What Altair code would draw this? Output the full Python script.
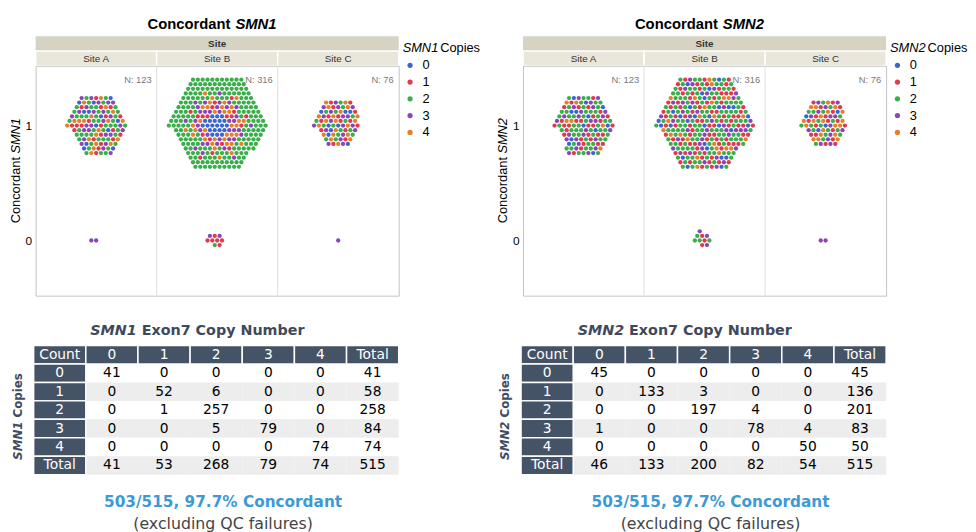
import altair as alt
import pandas as pd

# ---------------- data ----------------
SITES = ["Site A", "Site B", "Site C"]
SITE_N = [123, 316, 76]
COPIES = ["0", "1", "2", "3", "4"]

# counts of samples per copy number (0..4), concordant (=1) and discordant (=0), per site
SMN1_CONCORDANT = {"Site A": [12, 20, 45, 25, 19], "Site B": [21, 18, 197, 36, 35], "Site C": [8, 14, 15, 18, 20]}
SMN1_DISCORDANT = {"Site A": [0, 0, 0, 2, 0], "Site B": [0, 6, 1, 2, 0], "Site C": [0, 0, 0, 1, 0]}
SMN2_CONCORDANT = {"Site A": [12, 30, 50, 25, 6], "Site B": [29, 85, 129, 39, 24], "Site C": [4, 18, 18, 14, 20]}
SMN2_DISCORDANT = {"Site A": [0, 0, 0, 0, 0], "Site B": [0, 3, 4, 3, 0], "Site C": [0, 0, 0, 2, 0]}

TABLE_COLS = ["Count", "0", "1", "2", "3", "4", "Total"]
TABLE_ROWS = ["0", "1", "2", "3", "4", "Total"]
SMN1_TABLE = [[41, 0, 0, 0, 0, 41], [0, 52, 6, 0, 0, 58], [0, 1, 257, 0, 0, 258],
              [0, 0, 5, 79, 0, 84], [0, 0, 0, 0, 74, 74], [41, 53, 268, 79, 74, 515]]
SMN2_TABLE = [[45, 0, 0, 0, 0, 45], [0, 133, 3, 0, 0, 136], [0, 0, 197, 4, 0, 201],
              [1, 0, 0, 78, 4, 83], [0, 0, 0, 0, 50, 50], [46, 133, 200, 82, 54, 515]]

CONCORDANCE_TEXT = "503/515, 97.7% Concordant"
FOOTNOTE_TEXT = "(excluding QC failures)"

# ---------------- styling / layout ----------------
COLORS = ["#3b66d0", "#e03a4c", "#3aae4a", "#8c45b5", "#e47f2c"]
W = 368
HDR_H = 30
PLOT_H = 233
TAB_H = 237
Y_DOM = [-0.48, 1.52]
ROW_PX = 18.71
TAB_TOP = 50.5
SX, SY, DOT_SIZE = 4.9, 4.65, 19
PXU_X = W / 3.0
PXU_Y = PLOT_H / (Y_DOM[1] - Y_DOM[0])
FA = "Liberation Sans"
FT = "DejaVu Sans"
SLATE = "#455366"
PHI = 0.6180339887
# ordering bias (layout only): centre the blue group in Site B for SMN1, green outside
ORDER_BIAS = {"SMN1": {"Site B": [-1.0, 0.0, 0.7, 0.0, 0.0]}, "SMN2": {}}


def points(conc, disc, gene):
    recs = []
    for si, site in enumerate(SITES):
        for cval, table in ((1, conc), (0, disc)):
            idx = 0
            for ci, n in enumerate(table[site]):
                for _ in range(n):
                    key = (idx * PHI) % 1.0
                    if cval == 1 and site in ORDER_BIAS[gene]:
                        key += ORDER_BIAS[gene][site][ci]
                    recs.append(dict(site=site, site_idx=si, conc=cval, copies=COPIES[ci], key=key))
                    idx += 1
    return pd.DataFrame(recs)


def txt(t, **kw):
    return alt.Chart(pd.DataFrame({"t": [t]})).mark_text(**kw)


def header_chart(gene):
    sites = pd.DataFrame({"site": SITES, "site_idx": list(range(len(SITES)))})
    xs = alt.Scale(domain=[0, len(SITES)], nice=False, zero=False)
    outer = alt.Chart(pd.DataFrame({"t": ["Site"]})).mark_rect(fill="#d6d3c3").encode(
        x=alt.value(0), x2=alt.value(W), y=alt.value(0), y2=alt.value(15))
    outer_t = txt("Site", fontWeight="bold", fontSize=10, font=FA, color="#333").encode(
        x=alt.value(W / 2), y=alt.value(8), text="t:N")
    cells = alt.Chart(sites).transform_calculate(x2="datum.site_idx + 1").mark_rect(
        fill="#e9e7dc", stroke="white", strokeWidth=1.5).encode(
        x=alt.X("site_idx:Q", scale=xs, axis=None), x2="x2:Q", y=alt.value(15), y2=alt.value(30))
    cell_t = alt.Chart(sites).transform_calculate(xc="datum.site_idx + 0.5").mark_text(
        fontSize=10, font=FA, color="#333").encode(
        x=alt.X("xc:Q", scale=xs, axis=None), y=alt.value(23), text="site:N")
    split = 199.5
    t1 = txt("Concordant", align="right", fontWeight="bold", fontSize=15, font=FA, color="black").encode(
        x=alt.value(split - 2), y=alt.value(-12.5), text="t:N")
    t2 = txt(gene, align="left", fontWeight="bold", fontStyle="italic", fontSize=15, font=FA, color="black").encode(
        x=alt.value(split + 3), y=alt.value(-12.5), text="t:N")
    return alt.layer(outer, outer_t, cells, cell_t, t1, t2).properties(width=W, height=HDR_H)


def plot_chart(df, gene):
    xs = alt.Scale(domain=[0, len(SITES)], nice=False, zero=False)
    ys = alt.Scale(domain=Y_DOM, nice=False, zero=False)
    dots = (
        alt.Chart(df)
        .transform_window(rn="row_number()", groupby=["site", "conc"], sort=[alt.SortField("key")])
        .transform_calculate(i="datum.rn - 1")
        .transform_calculate(k="datum.i == 0 ? 0 : ceil((sqrt(1 + 4 * datum.i / 3) - 1) / 2)")
        .transform_calculate(j="datum.k == 0 ? 0 : datum.i - 3 * datum.k * (datum.k - 1) - 1")
        .transform_calculate(side="datum.k == 0 ? 0 : floor(datum.j / datum.k)")
        .transform_calculate(off="datum.k == 0 ? 0 : datum.j % datum.k")
        .transform_calculate(q="datum.k * [-1,-1,0,1,1,0][datum.side] + datum.off * [0,1,1,0,-1,-1][datum.side]")
        .transform_calculate(r="datum.k * [0,1,1,0,-1,-1][datum.side] + datum.off * [1,0,-1,-1,0,1][datum.side]")
        .transform_calculate(px=f"datum.site_idx + 0.5 + (datum.q + datum.r / 2) * {SX / PXU_X}")
        .transform_calculate(py=f"datum.conc + datum.r * {SY / PXU_Y}")
        .mark_circle(size=DOT_SIZE, opacity=1)
        .encode(
            x=alt.X("px:Q", scale=xs, axis=None),
            y=alt.Y("py:Q", scale=ys, axis=alt.Axis(values=[0, 1], title=None, ticks=False, domain=False,
                                                     grid=False, labelFont=FA, labelFontSize=12,
                                                     labelColor="black", labelPadding=4, format="d")),
            color=alt.Color("copies:N", scale=alt.Scale(domain=COPIES, range=COLORS),
                            legend=alt.Legend(title=None, orient="none", legendX=W + 5, legendY=-7,
                                              direction="vertical", labelFont=FA, labelFontSize=13,
                                              labelColor="black", symbolType="circle", symbolSize=28,
                                              symbolStrokeWidth=0, rowPadding=3, labelOffset=6, padding=0)),
        )
    )
    bounds = pd.DataFrame({"b": list(range(1, len(SITES)))})
    rules = alt.Chart(bounds).mark_rule(color="#dedede", strokeWidth=1).encode(x=alt.X("b:Q", scale=xs, axis=None))
    ndf = pd.DataFrame({"site_idx": list(range(len(SITES))), "n": [f"N: {n}" for n in SITE_N]})
    ntext = alt.Chart(ndf).transform_calculate(xr="datum.site_idx + 1").mark_text(
        align="right", dx=-5, fontSize=9.5, font=FA, color="#7a7a7a").encode(
        x=alt.X("xr:Q", scale=xs, axis=None), y=alt.value(14), text="n:N")
    yt1 = txt("Concordant", angle=270, align="right", fontSize=13, font=FA, color="black").encode(
        x=alt.value(-20), y=alt.value(92.5), text="t:N")
    yt2 = txt(gene, angle=270, align="left", fontSize=13, fontStyle="italic", font=FA, color="black").encode(
        x=alt.value(-20), y=alt.value(89), text="t:N")
    lt1 = txt(gene, align="left", fontSize=13, fontStyle="italic", font=FA, color="black").encode(
        x=alt.value(W + 4), y=alt.value(-18), text="t:N")
    lt2 = txt("Copies", align="left", fontSize=13, font=FA, color="black").encode(
        x=alt.value(W + 42), y=alt.value(-18), text="t:N")
    return alt.layer(rules, dots, ntext, yt1, yt2, lt1, lt2).properties(
        width=W, height=PLOT_H, view=alt.ViewBackground(stroke="#c2c2c2", strokeWidth=1))


def table_chart(matrix, gene):
    recs = []
    for c, name in enumerate(TABLE_COLS):
        recs.append(dict(c=c, r=0, txt=name, kind="head"))
    for r, rname in enumerate(TABLE_ROWS, start=1):
        recs.append(dict(c=0, r=r, txt=rname, kind="head"))
        for c, v in enumerate(matrix[r - 1], start=1):
            recs.append(dict(c=c, r=r, txt=str(v), kind="odd" if r % 2 == 1 else "even"))
    tdf = pd.DataFrame(recs)
    ncol = len(TABLE_COLS)
    x0 = 2.0 / 52.86
    xs = alt.Scale(domain=[x0, ncol], nice=False, zero=False)
    ys = alt.Scale(domain=[-TAB_TOP / ROW_PX, (TAB_H - TAB_TOP) / ROW_PX], nice=False, zero=False, reverse=True)
    base = alt.Chart(tdf).transform_calculate(c2="datum.c + 1", r2="datum.r + 1",
                                              cx="datum.c + 0.5", cy="datum.r + 0.5")
    fill = alt.Fill("kind:N", scale=alt.Scale(domain=["head", "odd", "even"], range=[SLATE, "#ffffff", "#ededed"]),
                    legend=None)
    body = base.transform_filter("datum.kind != 'head'").mark_rect().encode(
        x=alt.X("c:Q", scale=xs, axis=None), x2="c2:Q", y=alt.Y("r:Q", scale=ys, axis=None), y2="r2:Q", fill=fill)
    head = base.transform_filter("datum.kind == 'head'").mark_rect(stroke="white", strokeWidth=1.5).encode(
        x=alt.X("c:Q", scale=xs, axis=None), x2="c2:Q", y=alt.Y("r:Q", scale=ys, axis=None), y2="r2:Q", fill=fill)
    head_t = base.transform_filter("datum.kind == 'head'").mark_text(fontSize=14, font=FT, color="white").encode(
        x=alt.X("cx:Q", scale=xs, axis=None), y=alt.Y("cy:Q", scale=ys, axis=None), text="txt:N")
    body_t = base.transform_filter("datum.kind != 'head'").mark_text(fontSize=14, font=FT, color="black").encode(
        x=alt.X("cx:Q", scale=xs, axis=None), y=alt.Y("cy:Q", scale=ys, axis=None), text="txt:N")
    split = 105
    tt1 = txt(gene, align="right", fontSize=14.5, fontWeight="bold", fontStyle="italic", font=FT, color="#3e4a5c").encode(
        x=alt.value(split - 2.5), y=alt.value(35.5), text="t:N")
    tt2 = txt("Exon7 Copy Number", align="left", fontSize=14.5, fontWeight="bold", font=FT, color="#3e4a5c").encode(
        x=alt.value(split + 2.5), y=alt.value(35.5), text="t:N")
    yl1 = txt(gene, angle=270, align="right", fontSize=12, fontWeight="bold", fontStyle="italic", font=FT,
              color="#3e4d63").encode(x=alt.value(-18), y=alt.value(127.5), text="t:N")
    yl2 = txt("Copies", angle=270, align="left", fontSize=12, fontWeight="bold", font=FT,
              color="#3e4d63").encode(x=alt.value(-18), y=alt.value(123.5), text="t:N")
    conc = txt(CONCORDANCE_TEXT, fontSize=15.5, fontWeight="bold", font=FT, color="#3d9ad6").encode(
        x=alt.value(190), y=alt.value(209), text="t:N")
    foot = txt(FOOTNOTE_TEXT, fontSize=16, font=FT, color="#444444").encode(
        x=alt.value(190), y=alt.value(231), text="t:N")
    return alt.layer(body, head, head_t, body_t, tt1, tt2, yl1, yl2, conc, foot).properties(width=W, height=TAB_H)


df1 = points(SMN1_CONCORDANT, SMN1_DISCORDANT, "SMN1")
df2 = points(SMN2_CONCORDANT, SMN2_DISCORDANT, "SMN2")

chart = alt.concat(
    header_chart("SMN1"), header_chart("SMN2"),
    plot_chart(df1, "SMN1"), plot_chart(df2, "SMN2"),
    table_chart(SMN1_TABLE, "SMN1"), table_chart(SMN2_TABLE, "SMN2"),
    columns=2, spacing={"row": 0, "column": 126}, bounds="flush",
).resolve_scale(
    x="independent", y="independent", color="independent", fill="independent"
).resolve_legend(color="independent").configure_view(stroke=None).properties(
    padding={"left": 1, "top": 5, "right": 0, "bottom": 0}
)

chart.save("out.html", embed_options={"renderer": "svg", "actions": False})
